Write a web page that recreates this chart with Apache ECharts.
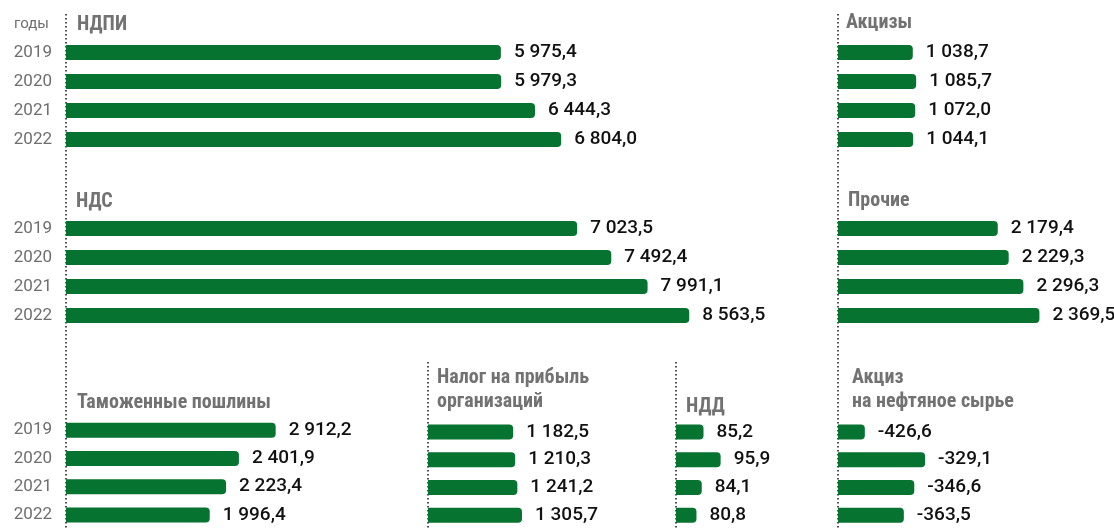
<!DOCTYPE html>
<html>
<head>
<meta charset="utf-8">
<script src="https://cdn.jsdelivr.net/npm/echarts@6/dist/echarts.min.js"></script>
<style>
  html, body { margin: 0; padding: 0; background: #fff; }
  #chart { width: 1114px; height: 529px; }
</style>
</head>
<body>
<div id="chart"></div>
<script type="text/javascript">
/* годы и значения, млрд руб. */
var years = ['2019', '2020', '2021', '2022'];
var ndpi = [5975.4, 5979.3, 6444.3, 6804.0];
var nds = [7023.5, 7492.4, 7991.1, 8563.5];
var customs = [2912.2, 2401.9, 2223.4, 1996.4];
var profitTax = [1182.5, 1210.3, 1241.2, 1305.7];
var ndd = [85.2, 95.9, 84.1, 80.8];
var excise = [1038.7, 1085.7, 1072.0, 1044.1];
var other = [2179.4, 2229.3, 2296.3, 2369.5];
var oilExcise = [-426.6, -329.1, -346.6, -363.5];

var green = '#077331';
var gray = '#727272';
var titleFont = "'Roboto Condensed', 'Liberation Sans Narrow', 'DejaVu Sans Condensed', Roboto, sans-serif";

/* панели: где стоит сетка и какая шкала */
var panels = [
    {data: ndpi,      left: 66,  top: 38,  width: 655, height: 116, min: 0,    max: 9000, years: true},
    {data: nds,       left: 66,  top: 214, width: 655, height: 116, min: 0,    max: 9000, years: true},
    {data: customs,   left: 66,  top: 416, width: 648, height: 116, min: 0,    max: 9000, years: true},
    {data: profitTax, left: 428, top: 418, width: 216, height: 115, min: 0,    max: 3000},
    {data: ndd,       left: 676, top: 418, width: 80,  height: 115, min: 68,   max: 118},
    {data: excise,    left: 838, top: 38,  width: 216, height: 116, min: 0,    max: 3000},
    {data: other,     left: 838, top: 214, width: 230, height: 116, min: 1450, max: 2500},
    {data: oilExcise, left: 838, top: 418, width: 136, height: 115, min: -470, max: -250}
];

function fmt(v) {
    var s = Math.abs(v).toFixed(1).split('.');
    var int = s[0].replace(/\B(?=(\d{3})+(?!\d))/g, ' ');
    return (v < 0 ? '-' : '') + int + ',' + s[1];
}

var grids = [], xAxes = [], yAxes = [], series = [];
panels.forEach(function (p, i) {
    grids.push({left: p.left, top: p.top, width: p.width, height: p.height});
    xAxes.push({type: 'value', gridIndex: i, min: p.min, max: p.max, startValue: p.min, show: false});
    yAxes.push({
        type: 'category', gridIndex: i, data: years, inverse: true,
        axisLine: {show: false}, axisTick: {show: false}, splitLine: {show: false},
        axisLabel: {show: !!p.years, color: '#6e6e6e', fontSize: 17, fontFamily: 'Roboto', margin: 14}
    });
    series.push({
        type: 'bar', xAxisIndex: i, yAxisIndex: i, data: p.data,
        barWidth: 15, silent: true,
        itemStyle: {color: green, borderRadius: [0, 4, 4, 0]},
        label: {
            show: true, position: 'right', distance: 13,
            color: '#111', fontSize: 19, fontWeight: 500, fontFamily: 'Roboto',
            formatter: function (d) { return fmt(d.value); }
        }
    });
});

function head(text, left, top, extra) {
    var ts = {fontFamily: titleFont, fontWeight: 'bold', fontSize: 20, color: gray, lineHeight: 24};
    if (extra) { for (var k in extra) ts[k] = extra[k]; }
    return {text: text, left: left, top: top, padding: 0, textStyle: ts};
}

var titles = [
    head('годы', 14, 12, {fontFamily: 'Roboto', fontWeight: 'normal', fontSize: 15, color: '#6e6e6e'}),
    head('НДПИ', 77, 13),
    head('НДС', 76, 190),
    head('Таможенные пошлины', 77, 391),
    head('Налог на прибыль\nорганизаций', 437, 366),
    head('НДД', 686, 395),
    head('Акцизы', 846, 11),
    head('Прочие', 848, 189),
    head('Акциз\nна нефтяное сырье', 852, 366)
];

/* пунктирные разделители */
function sep(x, y1, y2) {
    return {type: 'line', silent: true, shape: {x1: x, y1: y1, x2: x, y2: y2},
        style: {stroke: '#222', lineWidth: 1.6, lineDash: [1.6, 2.4]}};
}

var chart = echarts.init(document.getElementById('chart'));
chart.setOption({
    animation: false,
    title: titles,
    grid: grids,
    xAxis: xAxes,
    yAxis: yAxes,
    series: series,
    graphic: [sep(66, 14, 529), sep(838, 14, 529), sep(428, 362, 529), sep(676, 362, 529)]
});
</script>
</body>
</html>
